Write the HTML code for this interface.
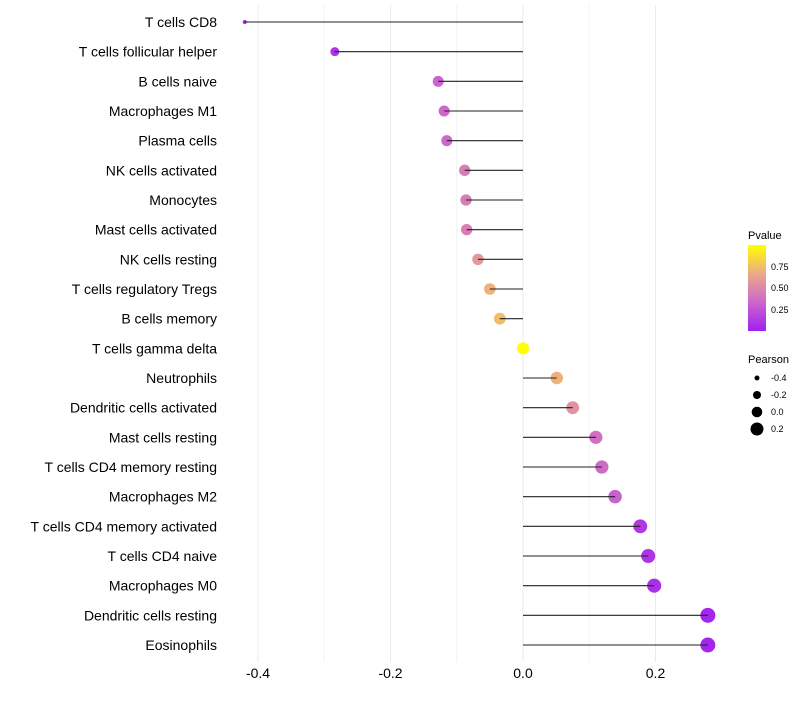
<!DOCTYPE html>
<html><head><meta charset="utf-8"><style>
body{margin:0;background:#fff;font-family:"Liberation Sans",sans-serif}
</style></head><body>
<svg id="chart" width="800" height="700" xmlns="http://www.w3.org/2000/svg" font-family="Liberation Sans, sans-serif">
<g id="grid"></g>
<g id="marks"></g>
<g id="stems"></g>
<g id="ylabels"></g>
<g id="xlabels"></g>
<g>
<defs><linearGradient id="pg" x1="0" y1="1" x2="0" y2="0">
<stop offset="0" stop-color="#a020f0"/><stop offset="0.33" stop-color="#cc66cc"/><stop offset="0.66" stop-color="#eba88a"/><stop offset="1" stop-color="#ffff00"/></linearGradient></defs>
<text x="748" y="239" font-size="11">Pvalue</text>
<rect x="748" y="245" width="18" height="86" fill="url(#pg)"/>
<text x="771" y="270" font-size="9">0.75</text>
<text x="771" y="291" font-size="9">0.50</text>
<text x="771" y="313" font-size="9">0.25</text>
<text x="748" y="363" font-size="11">Pearson</text>
<circle cx="757" cy="378" r="2.5"/><text x="771" y="381" font-size="9">-0.4</text>
<circle cx="757" cy="395" r="4"/><text x="771" y="398" font-size="9">-0.2</text>
<circle cx="757" cy="412" r="5.3"/><text x="771" y="415" font-size="9">0.0</text>
<circle cx="757" cy="429" r="6.5"/><text x="771" y="432" font-size="9">0.2</text>
</g>
</svg>
<script>
const categories=["T cells CD8","T cells follicular helper","B cells naive","Macrophages M1","Plasma cells","NK cells activated","Monocytes","Mast cells activated","NK cells resting","T cells regulatory  Tregs ","B cells memory","T cells gamma delta","Neutrophils","Dendritic cells activated","Mast cells resting","T cells CD4 memory resting","Macrophages M2","T cells CD4 memory activated","T cells CD4 naive","Macrophages M0","Dendritic cells resting","Eosinophils"];
const pearson=[-0.42,-0.284,-0.128,-0.119,-0.115,-0.088,-0.086,-0.085,-0.068,-0.050,-0.035,0.0,0.051,0.075,0.110,0.119,0.139,0.177,0.189,0.198,0.279,0.279];
const pvalue=[0.04,0.1,0.32,0.34,0.34,0.45,0.45,0.45,0.58,0.7,0.75,1.0,0.7,0.55,0.38,0.36,0.3,0.12,0.1,0.08,0.03,0.03];
const xTicks=[-0.4,-0.2,0.0,0.2];
const xTickLabels=["-0.4","-0.2","0.0","0.2"];
const xMinor=[-0.3,-0.1,0.1];
const NS="http://www.w3.org/2000/svg";
const x=v=>523+v*662.5;
const y=i=>22+i*(623/21);
const sizeScale=[[-0.42,2],[-0.284,4.5],[-0.128,5.5],[0,6],[0.28,7.5]];
function rad(v){if(v<=sizeScale[0][0])return sizeScale[0][1];for(let i=1;i<sizeScale.length;i++){if(v<=sizeScale[i][0]){const a=sizeScale[i-1],b=sizeScale[i];return a[1]+(b[1]-a[1])*(v-a[0])/(b[0]-a[0]);}}return sizeScale[sizeScale.length-1][1];}
function mk(tag,at,parent){const e=document.createElementNS(NS,tag);for(const k in at)e.setAttribute(k,at[k]);document.getElementById(parent).appendChild(e);return e;}
const stops=[[0,[160,32,240]],[0.33,[204,102,204]],[0.66,[235,168,138]],[1,[255,255,0]]];
function col(p){for(let i=1;i<stops.length;i++){if(p<=stops[i][0]){const a=stops[i-1],b=stops[i],t=(p-a[0])/(b[0]-a[0]);return "rgb("+a[1].map((c,j)=>Math.round(c+(b[1][j]-c)*t)).join(",")+")";}}return "rgb(255,255,0)";}
xMinor.forEach(v=>{const l=mk("line",{x1:x(v),x2:x(v),y1:5,y2:662,stroke:"#f2f2f2","stroke-width":1},"grid");

});
xTicks.forEach((v,i)=>{const l=mk("line",{x1:x(v),x2:x(v),y1:5,y2:662,stroke:"#ebebeb","stroke-width":1},"grid");


const t=mk("text",{x:x(v),y:678,"font-size":14,"text-anchor":"middle",fill:"#000"},"xlabels");t.textContent=xTickLabels[i];

});
categories.forEach((c,i)=>{
const d=mk("circle",{cx:x(pearson[i]),cy:y(i),r:rad(pearson[i]),fill:col(pvalue[i])},"marks");


const l=mk("line",{x1:x(0),x2:x(pearson[i]),y1:y(i),y2:y(i),stroke:"#222","stroke-width":1.1},"stems");


const t=mk("text",{x:217,y:y(i)+5,"font-size":14,"text-anchor":"end",fill:"#000","xml:space":"preserve"},"ylabels");t.textContent=c;


});
</script>
</body></html>
